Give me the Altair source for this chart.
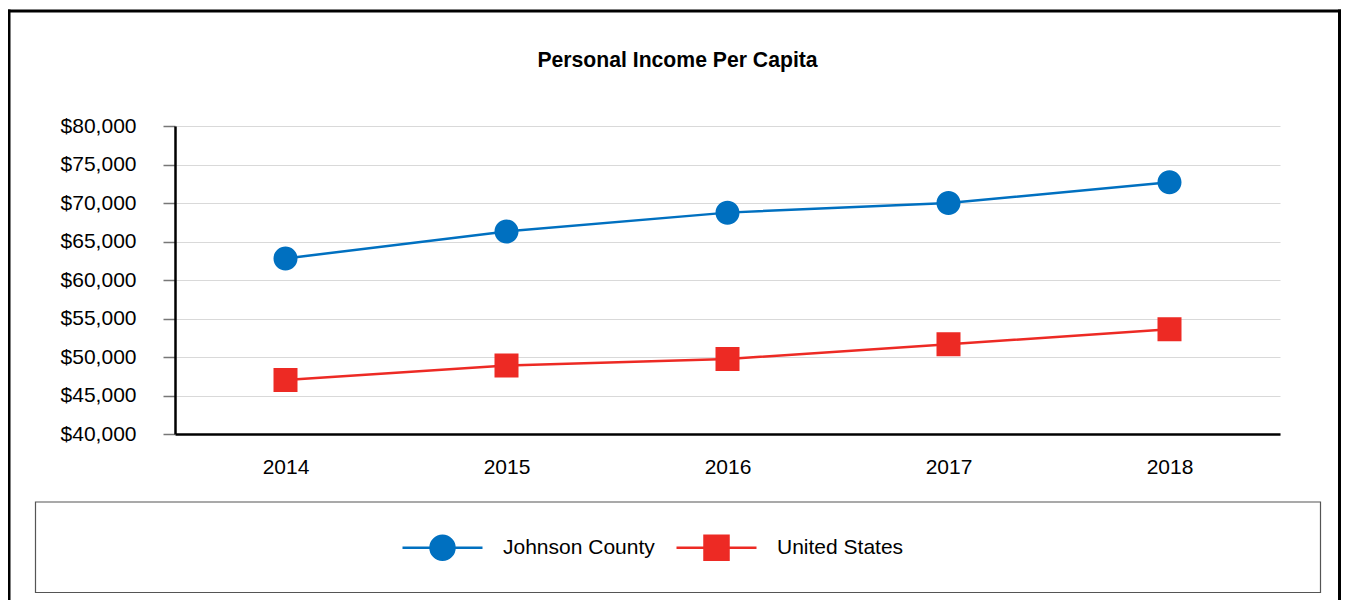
import altair as alt
import pandas as pd

FONT = "Liberation Sans"

years = ["2014", "2015", "2016", "2017", "2018"]
johnson_county = [62800, 66300, 68750, 70000, 72700]
united_states = [47000, 48900, 49750, 51650, 53600]
series_names = ["Johnson County", "United States"]
series_colors = ["#0070C0", "#ED2A24"]
y_tick_values = [40000, 45000, 50000, 55000, 60000, 65000, 70000, 75000, 80000]
title_text = "Personal Income Per Capita"

rows = []
for yr, v in zip(years, johnson_county):
    rows.append({"year": yr, "value": v, "series": series_names[0]})
for yr, v in zip(years, united_states):
    rows.append({"year": yr, "value": v, "series": series_names[1]})
df = pd.DataFrame(rows)
one = pd.DataFrame({"k": [0]})

r = 0.3
circle_path = f"M-1,0L{-r},0M{r},0L1,0M{-r},0A{r},{r} 0 1,0 {r},0A{r},{r} 0 1,0 {-r},0Z"
square_path = f"M-1,0L{-r},0M{r},0L1,0M{-r},{-r}L{r},{-r}L{r},{r}L{-r},{r}Z"

x_enc = alt.X(
    "year:O",
    scale=alt.Scale(domain=years, padding=0.5),
    axis=alt.Axis(
        title=None, labelAngle=0, ticks=False, tickSize=0, labelPadding=22,
        labelFontSize=21, labelFont=FONT, labelColor="black",
        domainColor="black", domainWidth=2.5, grid=False,
    ),
)
y_enc = alt.Y(
    "value:Q",
    scale=alt.Scale(domain=[40000, 80000], nice=False, zero=False),
    axis=alt.Axis(
        title=None, values=y_tick_values, format="$,.0f",
        labelFontSize=21, labelFont=FONT, labelColor="black", labelPadding=27,
        domainColor="black", domainWidth=2.5,
        tickColor="#777777", tickSize=12, tickWidth=1.5,
        grid=True, gridColor="#d9d9d9", gridWidth=1.2,
    ),
)


def leg():
    return alt.Legend(
        title=None, orient="none", legendX=226, legendY=380, direction="horizontal",
        symbolSize=6400, symbolStrokeWidth=2.5, symbolOpacity=1,
        labelFontSize=21, labelFont=FONT, labelColor="black",
        labelOffset=19, columnPadding=16, padding=0, labelLimit=400, zindex=5,
    )


color_scale = alt.Scale(domain=series_names, range=series_colors)
shape_scale = alt.Scale(domain=series_names, range=[circle_path, square_path])

lines = alt.Chart(df).mark_line(strokeWidth=2.5).encode(
    x=x_enc, y=y_enc,
    stroke=alt.Stroke("series:N", scale=color_scale, legend=leg()),
)
points = alt.Chart(df).mark_point(filled=True, size=6400, strokeWidth=0, opacity=1).encode(
    x=x_enc, y=y_enc,
    fill=alt.Fill("series:N", scale=color_scale, legend=leg()),
    stroke=alt.Stroke("series:N", scale=color_scale, legend=leg()),
    shape=alt.Shape("series:N", scale=shape_scale, legend=leg()),
)

legend_box = alt.Chart(one).mark_rect(fill="white", stroke="#555555", strokeWidth=1.2).encode(
    x=alt.value(-139.5), x2=alt.value(1145.5), y=alt.value(376), y2=alt.value(466.5)
)
frame_left = alt.Chart(one).mark_rule(color="black", strokeWidth=3).encode(
    x=alt.value(-166), y=alt.value(-116.5), y2=alt.value(480)
)
frame_right = alt.Chart(one).mark_rule(color="black", strokeWidth=3).encode(
    x=alt.value(1164.5), y=alt.value(-116.5), y2=alt.value(480)
)
frame_top = alt.Chart(one).mark_rule(color="black", strokeWidth=3).encode(
    x=alt.value(-167.5), x2=alt.value(1166), y=alt.value(-115)
)
title = alt.Chart(one).mark_text(
    text=title_text, fontSize=21.2, fontWeight="bold", font=FONT,
    align="center", baseline="middle", color="black",
).encode(x=alt.value(502.5), y=alt.value(-65.5))

chart = alt.layer(
    legend_box, frame_left, frame_right, frame_top, title, lines, points
).properties(
    width=1105, height=308,
    autosize=alt.AutoSizeParams(type="none"),
    padding={"left": 167, "top": 118, "right": 61, "bottom": 166},
    background="white",
).configure_view(stroke=None)

chart.save("out.html", embed_options={"renderer": "svg", "actions": False})
